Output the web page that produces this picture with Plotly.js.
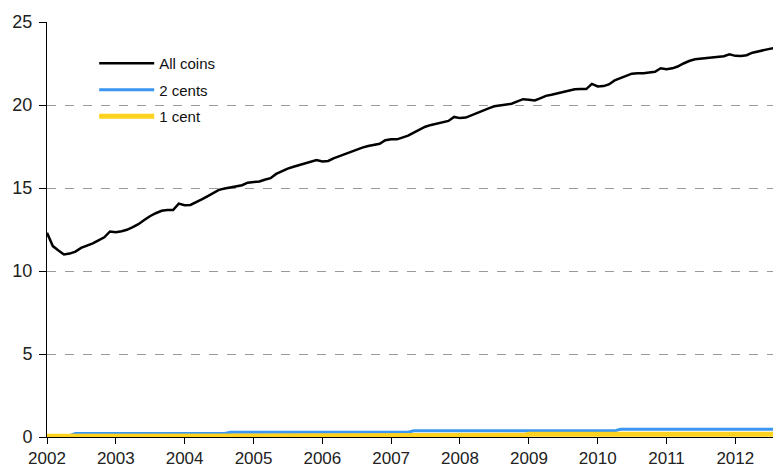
<!DOCTYPE html>
<html>
<head>
<meta charset="utf-8">
<script src="https://cdn.plot.ly/plotly-3.0.1.min.js"></script>
<style>html,body{margin:0;padding:0;background:#fff}#chart{width:773px;height:468px}</style>
</head>
<body>
<div id="chart"></div>
<script>
// Monthly series, January 2002 onwards
var startYear = 2002;
var startMonth = 1;

var allCoins = [
  12.30, 11.50, 11.25, 11.00, 11.05, 11.17, 11.39, 11.53, 11.66, 11.85, 12.03, 12.38,
  12.33, 12.40, 12.48, 12.64, 12.82, 13.07, 13.30, 13.48, 13.63, 13.67, 13.67, 14.06,
  13.96, 13.98, 14.13, 14.31, 14.50, 14.70, 14.89, 14.97, 15.05, 15.10, 15.17, 15.32,
  15.36, 15.39, 15.50, 15.59, 15.85, 16.03, 16.17, 16.28, 16.38, 16.47, 16.58, 16.69,
  16.60, 16.63, 16.79, 16.92, 17.06, 17.20, 17.33, 17.43, 17.53, 17.59, 17.66, 17.88,
  17.93, 17.93, 18.03, 18.15, 18.34, 18.53, 18.69, 18.80, 18.89, 18.98, 19.04, 19.28,
  19.21, 19.24, 19.38, 19.53, 19.66, 19.80, 19.92, 19.98, 20.04, 20.08, 20.22, 20.35,
  20.32, 20.27, 20.40, 20.55, 20.62, 20.71, 20.80, 20.87, 20.95, 20.96, 20.96, 21.27,
  21.12, 21.14, 21.24, 21.48, 21.62, 21.75, 21.89, 21.91, 21.91, 21.96, 22.00, 22.21,
  22.15, 22.21, 22.32, 22.50, 22.65, 22.75, 22.79, 22.81, 22.86, 22.91, 22.94, 23.05,
  22.96, 22.95, 23.00, 23.15, 23.24, 23.31, 23.38, 23.45
];

var twoCents = [
  0.08, 0.08, 0.08, 0.08, 0.08, 0.21, 0.21, 0.21, 0.21, 0.21, 0.21, 0.21,
  0.21, 0.21, 0.21, 0.21, 0.21, 0.21, 0.21, 0.21, 0.21, 0.21, 0.21, 0.21,
  0.21, 0.21, 0.21, 0.21, 0.21, 0.21, 0.21, 0.21, 0.29, 0.29, 0.29, 0.29,
  0.29, 0.29, 0.29, 0.29, 0.29, 0.29, 0.29, 0.29, 0.29, 0.29, 0.29, 0.29,
  0.29, 0.29, 0.29, 0.29, 0.29, 0.29, 0.29, 0.29, 0.29, 0.29, 0.29, 0.29,
  0.29, 0.29, 0.29, 0.29, 0.37, 0.37, 0.37, 0.37, 0.37, 0.37, 0.37, 0.37,
  0.37, 0.37, 0.37, 0.37, 0.37, 0.37, 0.37, 0.37, 0.37, 0.37, 0.37, 0.37,
  0.37, 0.37, 0.37, 0.37, 0.37, 0.37, 0.37, 0.37, 0.37, 0.37, 0.37, 0.37,
  0.37, 0.37, 0.37, 0.37, 0.46, 0.46, 0.46, 0.46, 0.46, 0.46, 0.46, 0.46,
  0.46, 0.46, 0.46, 0.46, 0.46, 0.46, 0.46, 0.46, 0.46, 0.46, 0.46, 0.46,
  0.46, 0.46, 0.46, 0.46, 0.46, 0.46, 0.46, 0.46
];

var oneCent = [
  0.04, 0.04, 0.04, 0.04, 0.04, 0.04, 0.04, 0.04, 0.04, 0.04, 0.04, 0.04,
  0.04, 0.04, 0.04, 0.04, 0.04, 0.04, 0.04, 0.04, 0.04, 0.04, 0.04, 0.04,
  0.04, 0.04, 0.04, 0.04, 0.04, 0.04, 0.04, 0.04, 0.10, 0.10, 0.10, 0.10,
  0.10, 0.10, 0.10, 0.10, 0.10, 0.10, 0.10, 0.10, 0.10, 0.10, 0.10, 0.10,
  0.10, 0.10, 0.10, 0.10, 0.10, 0.10, 0.10, 0.10, 0.10, 0.10, 0.10, 0.10,
  0.10, 0.10, 0.10, 0.10, 0.10, 0.10, 0.10, 0.10, 0.10, 0.10, 0.10, 0.10,
  0.10, 0.10, 0.10, 0.10, 0.10, 0.10, 0.10, 0.10, 0.10, 0.10, 0.10, 0.10,
  0.17, 0.17, 0.17, 0.17, 0.17, 0.17, 0.17, 0.17, 0.17, 0.17, 0.17, 0.17,
  0.17, 0.17, 0.17, 0.17, 0.17, 0.17, 0.17, 0.17, 0.17, 0.17, 0.17, 0.17,
  0.17, 0.17, 0.17, 0.17, 0.17, 0.17, 0.17, 0.17, 0.17, 0.17, 0.17, 0.17,
  0.17, 0.17, 0.17, 0.17, 0.17, 0.17, 0.17, 0.17
];

var seriesNames = ['All coins', '2 cents', '1 cent'];
var yTicks = [0, 5, 10, 15, 20, 25];
var xTickYears = ['2002','2003','2004','2005','2006','2007','2008','2009','2010','2011','2012'];

function monthDates(n) {
  var out = [];
  for (var i = 0; i < n; i++) {
    var m = startMonth - 1 + i;
    var y = startYear + Math.floor(m / 12);
    var mm = (m % 12) + 1;
    out.push(y + '-' + (mm < 10 ? '0' + mm : mm) + '-01');
  }
  return out;
}
var dates = monthDates(allCoins.length);

var FONT = 'Liberation Sans, Arial, sans-serif';

var traces = [
  {x: dates, y: allCoins, name: seriesNames[0], type: 'scatter', mode: 'lines',
   line: {color: '#000000', width: 2.5}, legendgroup: 'a'},
  {x: dates, y: twoCents, name: seriesNames[1], type: 'scatter', mode: 'lines',
   line: {color: '#3a96f0', width: 3}, legendgroup: 'b'},
  {x: dates, y: oneCent, name: seriesNames[2], type: 'scatter', mode: 'lines',
   line: {color: '#ffd21f', width: 5}, legendgroup: 'c'}
];

var layout = {
  width: 773, height: 468,
  margin: {l: 47, r: 0, t: 22, b: 31, pad: 0},
  paper_bgcolor: '#ffffff', plot_bgcolor: '#ffffff',
  font: {family: FONT, size: 17, color: '#222'},
  showlegend: true,
  legend: {x: 0.065, y: 0.94, xanchor: 'left', yanchor: 'top',
           bgcolor: 'rgba(0,0,0,0)', font: {family: FONT, size: 15, color: '#111'},
           traceorder: 'grouped', tracegroupgap: 4, itemwidth: 55},
  xaxis: {
    type: 'date',
    range: ['2002-01-01', '2012-07-19'],
    tickvals: xTickYears.map(function(y){return y + '-01-01';}),
    ticktext: xTickYears,
    ticks: 'outside', ticklen: 6, tickcolor: '#000', tickwidth: 1,
    showline: true, linecolor: '#000', linewidth: 1,
    showgrid: false, zeroline: false,
    tickfont: {family: FONT, size: 17, color: '#222'}
  },
  yaxis: {
    range: [0, 25],
    tickvals: yTicks,
    ticks: 'outside', ticklen: 7, tickcolor: '#000', tickwidth: 1,
    ticklabelstandoff: 3,
    showline: true, linecolor: '#000', linewidth: 1,
    showgrid: true, gridcolor: '#9a9a9a', griddash: 'dash', gridwidth: 1,
    zeroline: false,
    tickfont: {family: FONT, size: 18, color: '#222'}
  }
};

Plotly.newPlot('chart', traces, layout, {displayModeBar: false, staticPlot: true});
</script>
</body>
</html>
